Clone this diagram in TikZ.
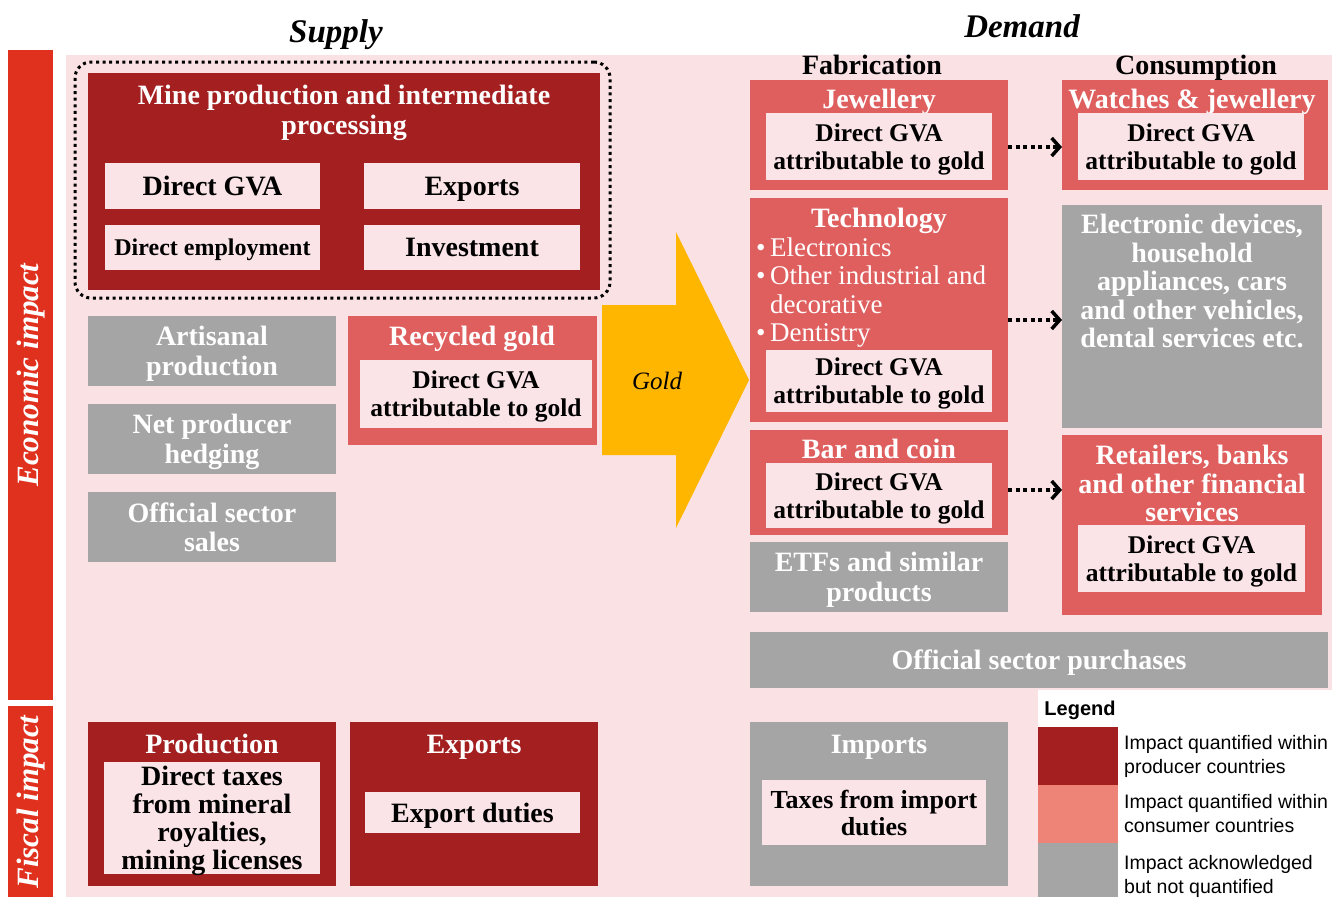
\documentclass[tikz,border=0pt]{standalone}
\usepackage{fontspec}
\setmainfont{Liberation Serif}
\newfontfamily\keyfamily{Liberation Sans}
\usetikzlibrary{arrows.meta}

\definecolor{pwcpink}{HTML}{F9E1E4}
\definecolor{pwcinner}{HTML}{FAE4E7}
\definecolor{pwcdark}{HTML}{A31F20}
\definecolor{pwcrose}{HTML}{DF5F5F}
\definecolor{pwckey}{HTML}{EE8477}
\definecolor{pwcgray}{HTML}{A5A5A5}
\definecolor{pwcred}{HTML}{E0311F}
\definecolor{pwcgold}{HTML}{FFB600}

\newcommand\boxfont{\bfseries\fontsize{28}{29.5}\selectfont}
\newcommand\gvafont{\bfseries\fontsize{25.5}{28}\selectfont}
\newcommand\sectfont{\bfseries\itshape\fontsize{33}{36}\selectfont}
\newcommand\sidefont{\bfseries\itshape\fontsize{31}{33}\selectfont}
\newcommand\keyfont{\keyfamily\fontsize{19.5}{24}\selectfont}

\tikzset{
  cell/.style={anchor=north west, inner sep=0pt, outer sep=0pt},
  darkbox/.style={cell, fill=pwcdark},
  rosebox/.style={cell, fill=pwcrose},
  graybox/.style={cell, text depth=0pt, fill=pwcgray, text=white, font=\boxfont, align=center},
  innerbox/.style={cell, text depth=0pt, fill=pwcinner, text=black, font=\gvafont, align=center},
  heading/.style={text depth=0pt, text=white, font=\boxfont, align=center, inner sep=0pt},
  flow/.style={line width=4pt, dash pattern=on 4pt off 3.5pt,
    -{Straight Barb[length=8pt,width=18pt,line width=3.5pt]}},
}

\begin{document}
\begin{tikzpicture}[x=1pt,y=-1pt]
  \useasboundingbox (0,0) rectangle (1332,897);
  \fill[white] (0,0) rectangle (1332,897);

  % background
  \fill[pwcpink] (66,55) rectangle (1332,897);
  \fill[white] (1038,690) rectangle (1332,897);

  % side bars
  \node[cell, fill=pwcred, minimum width=45, minimum height=650] (econbar) at (8,50) {};
  \node[rotate=90, text=white, font=\sidefont] (econlabel) at (31,375) {Economic impact};
  \node[cell, fill=pwcred, minimum width=45, minimum height=191] (fiscbar) at (8,706) {};
  \node[rotate=90, text=white, font=\sidefont] (fisclabel) at (31,802) {Fiscal impact};

  \node[anchor=base, font=\sectfont] (supply) at (336,42) {Supply};
  \node[anchor=base, font=\sectfont] (demand) at (1022,37) {Demand};

  % supply
  \node[darkbox, minimum width=512, minimum height=217] (mine) at (88,73) {};
  \node[heading] (minetitle) at (344,110) {Mine production and intermediate\\processing};
  \node[innerbox, font=\boxfont, minimum width=215, minimum height=46] (minegva) at (105,163) {Direct GVA};
  \node[innerbox, font=\boxfont, minimum width=216, minimum height=46] (mineexp) at (364,163) {Exports};
  \node[innerbox, font=\bfseries\fontsize{24}{26}\selectfont, minimum width=215, minimum height=45] (mineemp) at (105,225) {Direct employment};
  \node[innerbox, font=\boxfont, minimum width=216, minimum height=45] (mineinv) at (364,225) {Investment};
  \node[cell, draw, line width=3pt, dash pattern=on 3pt off 3.6pt, rounded corners=16pt,
    minimum width=535, minimum height=236] (mineframe) at (75,62) {};

  \node[graybox, minimum width=248, minimum height=70] (artisanal) at (88,316) {Artisanal\\production};
  \node[graybox, minimum width=248, minimum height=70] (hedging) at (88,404) {Net producer\\hedging};
  \node[graybox, minimum width=248, minimum height=70] (sales) at (88,492) {Official sector\\sales};

  \node[rosebox, minimum width=249, minimum height=129] (recycled) at (348,316) {};
  \node[heading] (recytitle) at (472,336) {Recycled gold};
  \node[innerbox, minimum width=232, minimum height=68] (recygva) at (360,360) {Direct GVA\\attributable to gold};

  % gold flow
  \fill[pwcgold] (602,305) -- (676,305) -- (676,232) -- (749,380) -- (676,528)
    -- (676,455) -- (602,455) -- cycle;
  \node[font=\itshape\fontsize{25}{27}\selectfont] (goldlabel) at (657,381) {Gold};

  % demand: fabrication
  \node[anchor=base, font=\boxfont] (fabrication) at (872,74.5) {Fabrication};
  \node[anchor=base, font=\boxfont] (consumption) at (1196,74.5) {Consumption};

  \node[rosebox, minimum width=258, minimum height=110] (jewel) at (750,80) {};
  \node[heading] (jeweltitle) at (879,99) {Jewellery};
  \node[innerbox, minimum width=226, minimum height=67] (jewelgva) at (766,113) {Direct GVA\\attributable to gold};

  \node[rosebox, minimum width=258, minimum height=224] (tech) at (750,198) {};
  \node[heading] (techtitle) at (879,218) {Technology};
  \node[anchor=north west, inner sep=0pt, text=white, align=left,
    font=\fontsize{27}{28.5}\selectfont] (techlist) at (756,237.5)
    {\textbullet\,Electronics\\ \textbullet\,Other industrial and\\
     \hphantom{\textbullet\,}decorative\\ \textbullet\,Dentistry};
  \node[innerbox, minimum width=226, minimum height=62] (techgva) at (766,350) {Direct GVA\\attributable to gold};

  \node[rosebox, minimum width=258, minimum height=105] (bar) at (750,430) {};
  \node[heading] (bartitle) at (879,449) {Bar and coin};
  \node[innerbox, minimum width=226, minimum height=65] (bargva) at (766,463) {Direct GVA\\attributable to gold};

  \node[graybox, minimum width=258, minimum height=70] (etf) at (750,542) {ETFs and similar\\products};
  \node[graybox, minimum width=578, minimum height=56] (purchases) at (750,632) {Official sector purchases};

  % demand: consumption
  \node[rosebox, minimum width=266, minimum height=110] (watch) at (1062,80) {};
  \node[heading] (watchtitle) at (1192,99) {Watches \& jewellery};
  \node[innerbox, minimum width=226, minimum height=67] (watchgva) at (1078,113) {Direct GVA\\attributable to gold};

  \node[graybox, minimum width=260, minimum height=223] (devices) at (1062,205) {};
  \node[heading, font=\bfseries\fontsize{28}{28.5}\selectfont] (devicetext) at (1192,281)
    {Electronic devices,\\household\\appliances, cars\\and other vehicles,\\dental services etc.};

  \node[rosebox, minimum width=260, minimum height=180] (retail) at (1062,435) {};
  \node[heading, font=\bfseries\fontsize{28}{28.5}\selectfont] (retailtitle) at (1192,483.5)
    {Retailers, banks\\and other financial\\services};
  \node[innerbox, minimum width=227, minimum height=67] (retailgva) at (1078,525) {Direct GVA\\attributable to gold};

  \draw[flow] ([yshift=-12pt]jewel.east) -- ([yshift=-12pt]jewel.east -| watch.west);
  \draw[flow] ([yshift=-10pt]tech.east) -- ([yshift=-10pt]tech.east -| devices.west);
  \draw[flow] ([yshift=-7.5pt]bar.east) -- ([yshift=-7.5pt]bar.east -| retail.west);

  % fiscal
  \node[darkbox, minimum width=248, minimum height=164] (prod) at (88,722) {};
  \node[heading] (prodtitle) at (212,744) {Production};
  \node[innerbox, font=\bfseries\fontsize{28}{28}\selectfont, minimum width=216, minimum height=112] (prodtax) at (104,762)
    {Direct taxes\\from mineral\\royalties,\\mining licenses};

  \node[darkbox, minimum width=248, minimum height=164] (exp) at (350,722) {};
  \node[heading] (exptitle) at (474,744) {Exports};
  \node[innerbox, font=\boxfont, minimum width=215, minimum height=41] (exptax) at (365,792) {Export duties};

  \node[graybox, minimum width=258, minimum height=164] (imp) at (750,722) {};
  \node[heading] (imptitle) at (879,744) {Imports};
  \node[innerbox, font=\bfseries\fontsize{26}{27}\selectfont, minimum width=224, minimum height=65] (imptax) at (762,780)
    {Taxes from import\\duties};

  % legend
  \node[font=\keyfamily\bfseries\fontsize{20}{22}\selectfont] (legend) at (1080,710) {Legend};
  \node[cell, fill=pwcdark, minimum width=80, minimum height=58] (keydark) at (1038,727) {};
  \node[cell, fill=pwckey, minimum width=80, minimum height=58] (keyrose) at (1038,785) {};
  \node[cell, fill=pwcgray, minimum width=80, minimum height=54] (keygray) at (1038,843) {};
  \node[anchor=west, align=left, font=\keyfont, inner sep=0pt] (keydarktext) at ([xshift=6pt]keydark.east)
    {Impact quantified within\\producer countries};
  \node[anchor=west, align=left, font=\keyfont, inner sep=0pt] (keerosetext) at ([xshift=6pt]keyrose.east)
    {Impact quantified within\\consumer countries};
  \node[anchor=west, align=left, font=\keyfont, inner sep=0pt] (keygraytext) at ([xshift=6pt,yshift=-6pt]keygray.east)
    {Impact acknowledged\\but not quantified};
\end{tikzpicture}
\end{document}
